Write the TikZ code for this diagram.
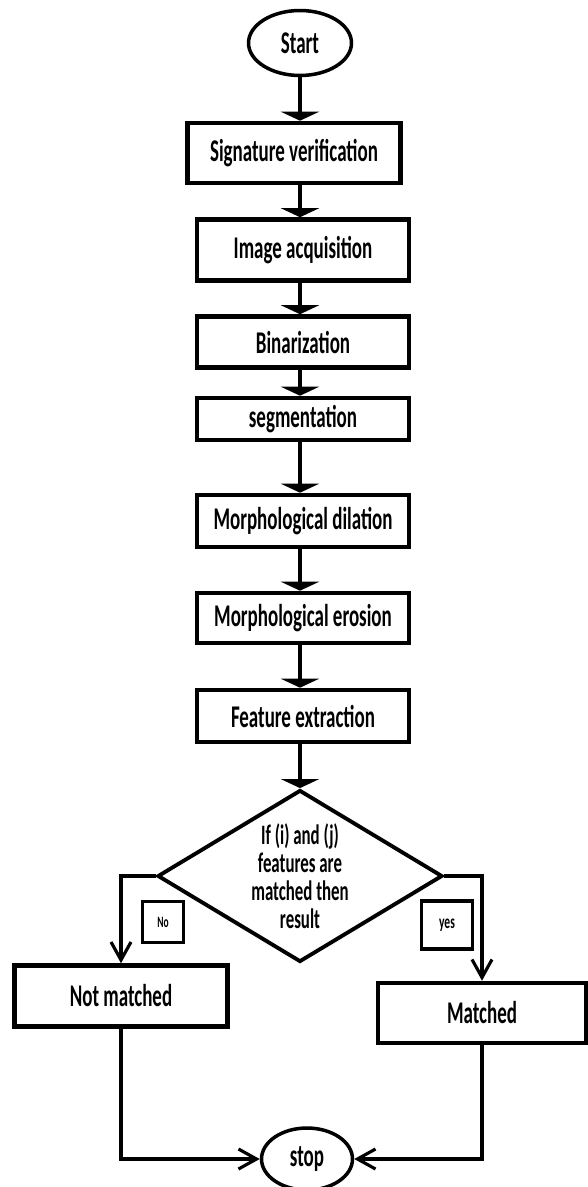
\documentclass[tikz,border=0pt]{standalone}
\usepackage{fontspec}
\newfontfamily\flowfont[FakeStretch=0.6]{Carlito}
\usetikzlibrary{shapes.geometric,arrows.meta}

\begin{document}
\begin{tikzpicture}[x = 0.02cm, y = -0.02cm,
        box/.style = {draw, line width = 2.6pt, inner sep = 0pt, minimum width = 4.24cm,
            font = \flowfont\bfseries\fontsize{18}{20}\selectfont},
        term/.style = {draw, ellipse, line width = 2pt, inner sep = 0pt,
            font = \flowfont\bfseries\fontsize{18}{20}\selectfont},
        tag/.style = {draw, line width = 2.2pt, inner sep = 0pt,
            font = \flowfont\bfseries\fontsize{9}{10}\selectfont},
        flow/.style = {line width = 2pt, -{Triangle[width = 0.76cm, length = 0.18cm]}},
        barb/.style = {line width = 1.8pt, -{Straight Barb[width = 0.4cm, length = 0.36cm]}}]
    \useasboundingbox (0,0) rectangle (588,1187);
    \node[term, minimum width = 2.06cm, minimum height = 1.3cm] (start) at (300,43) {Start};
    \node[box, minimum height = 1.2cm, minimum width = 4.26cm] (sig) at (294,153) {Signature verification};
    \node[box, minimum height = 1.22cm] (acq) at (303,250) {Image acquisition};
    \node[box, minimum height = 1.02cm] (bin) at (303,342) {Binarization};
    \node[box, minimum height = 0.84cm] (seg) at (303,419) {segmentation};
    \node[box, minimum height = 1.04cm] (dil) at (303,521) {Morphological dilation};
    \node[box, minimum height = 1.0cm] (ero) at (303,618) {Morphological erosion};
    \node[box, minimum height = 1.04cm] (fea) at (303,716) {Feature extraction};
    \node[draw, diamond, line width = 2.2pt, aspect = 1.66, inner sep = 0pt,
        minimum width = 5.7cm, minimum height = 3.44cm, align = center,
        font = \flowfont\bfseries\fontsize{16}{16}\selectfont] (dec) at (300,876)
        {If (i) and (j)\\features are\\matched then\\result};
    \node[tag, minimum width = 0.82cm, minimum height = 0.82cm] (no) at (163,922) {No};
    \node[tag, minimum width = 1.02cm, minimum height = 0.96cm, font = \flowfont\bfseries\fontsize{11}{12}\selectfont] (yes) at (447,925) {yes};
    \node[box, minimum height = 1.22cm, minimum width = 4.26cm] (notm) at (121,996) {Not matched};
    \node[box, minimum height = 1.2cm, minimum width = 4.16cm] (match) at (482,1013) {Matched};
    \node[term, minimum width = 1.82cm, minimum height = 1.24cm] (stop) at (307,1159) {stop};
    \draw[flow] (start.south) -- (start |- sig.north);
    \draw[flow] (sig.south -| start) -- (acq.north -| start);
    \draw[flow] (acq.south -| start) -- (bin.north -| start);
    \draw[flow] (bin.south -| start) -- (seg.north -| start);
    \draw[flow] (seg.south -| start) -- (dil.north -| start);
    \draw[flow] (dil.south -| start) -- (ero.north -| start);
    \draw[flow] (ero.south -| start) -- (fea.north -| start);
    \draw[flow] (fea.south -| start) -- (dec.north);
    \draw[barb] (dec.west) -| (notm.north);
    \draw[barb] (dec.east) -| (match.north);
    \draw[barb] (notm.south) |- (stop.west);
    \draw[barb] (match.south) |- (stop.east);
\end{tikzpicture}
\end{document}
